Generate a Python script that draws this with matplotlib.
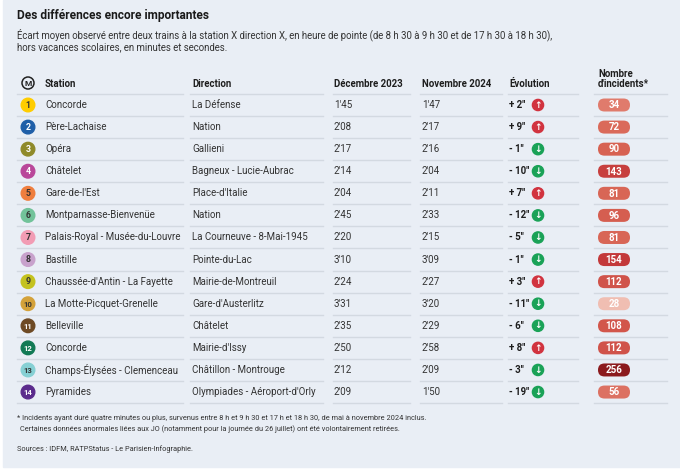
import matplotlib
matplotlib.use("Agg")
import matplotlib.pyplot as plt
from matplotlib.patches import Circle, FancyBboxPatch, Rectangle
import numpy as np

lines = [1, 2, 3, 4, 5, 6, 7, 8, 9, 10, 11, 12, 13, 14]
stations = ["Concorde", "Père-Lachaise", "Opéra", "Châtelet", "Gare-de-l'Est",
            "Montparnasse-Bienvenüe", "Palais-Royal - Musée-du-Louvre", "Bastille",
            "Chaussée-d'Antin - La Fayette", "La Motte-Picquet-Grenelle", "Belleville",
            "Concorde", "Champs-Élysées - Clemenceau", "Pyramides"]
directions = ["La Défense", "Nation", "Gallieni", "Bagneux - Lucie-Aubrac", "Place-d'Italie",
              "Nation", "La Courneuve - 8-Mai-1945", "Pointe-du-Lac", "Mairie-de-Montreuil",
              "Gare-d'Austerlitz", "Châtelet", "Mairie-d'Issy", "Châtillon - Montrouge",
              "Olympiades - Aéroport-d'Orly"]
# waiting time in seconds
dec_2023 = [105, 128, 137, 134, 124, 165, 140, 190, 144, 211, 155, 170, 132, 129]
nov_2024 = [107, 137, 136, 124, 131, 153, 135, 189, 147, 200, 149, 178, 129, 110]
incidents = [34, 72, 90, 143, 81, 96, 81, 154, 112, 28, 108, 112, 256, 56]

headers = ["Station", "Direction", "Décembre 2023", "Novembre 2024", "Évolution",
           "Nombre\nd'incidents*"]

line_colors = ["#ffcd00", "#1f5fa8", "#8f8a2a", "#b9479a", "#ef7e3e", "#72c39a", "#f29cb4",
               "#c8a2cc", "#c4c21e", "#d4a23a", "#6e4a24", "#127a55", "#86d0d4", "#5b2b8c"]
line_text = ["#333", "w", "w", "w", "#333", "#333", "#333", "#333", "#333", "#333",
             "w", "w", "#333", "w"]

BG = "#e9eef5"
SEP = "#d3d9e1"
TXT = "#333333"
plt.rcParams["font.family"] = ["Roboto", "DejaVu Sans"]


def fmt(sec):
    return f"{sec // 60}'{sec % 60:02d}"


def pill_color(v):
    anchors = [28, 34, 90, 150, 256]
    cols = np.array([[0xf0, 0xbe, 0xb2], [0xe0, 0x7b, 0x6c], [0xd7, 0x62, 0x52],
                     [0xc5, 0x3a, 0x3b], [0x8b, 0x1a, 0x1d]]) / 255
    return tuple(np.interp(v, anchors, cols[:, i]) for i in range(3))


fig = plt.figure(figsize=(6.8, 4.73), dpi=100, facecolor="white")
ax = fig.add_axes([0, 0, 1, 1])
ax.set_xlim(0, 680)
ax.set_ylim(473, 0)
ax.axis("off")
ax.add_patch(Rectangle((3, 0), 677, 467, color=BG, zorder=0))

ax.text(17, 16, "Des différences encore importantes", fontsize=8.6, fontweight="bold",
        color="#1a1a1a", va="center")
ax.text(17, 35, "Écart moyen observé entre deux trains à la station X direction X, en heure de pointe "
        "(de 8 h 30 à 9 h 30 et de 17 h 30 à 18 h 30),", fontsize=6.9, color=TXT, va="center")
ax.text(17, 47, "hors vacances scolaires, en minutes et secondes.", fontsize=6.9, color=TXT,
        va="center")

col_x = [45, 192, 334, 422, 509, 598]
seg = [(17, 183), (190, 323), (333, 410), (420, 502), (508, 578), (594, 667)]

# header
ax.add_patch(Circle((28, 83), 6, fill=False, ec="#222", lw=1.1))
ax.text(28, 83.3, "M", fontsize=6, fontweight="bold", ha="center", va="center", color="#222")
for x, h in zip(col_x, headers):
    ax.text(x, 84 if "\n" not in h else 79, h, fontsize=6.9, fontweight="bold", color="#1e1e1e",
            va="center", linespacing=1.0)

row_y0, row_dy = 105, 22.08
for a, b in seg:
    ax.plot([a, b], [94, 94], color=SEP, lw=1)

for i in range(len(lines)):
    y = row_y0 + i * row_dy
    ax.add_patch(Circle((28, y), 6.8, color=line_colors[i], zorder=2))
    ax.text(28, y + 0.3, str(lines[i]), fontsize=6.3 if lines[i] < 10 else 5.6, fontweight="bold",
            ha="center", va="center", color="white" if line_text[i] == "w" else "#333", zorder=3)
    ax.text(col_x[0], y, stations[i], fontsize=7, color=TXT, va="center")
    ax.text(col_x[1], y, directions[i], fontsize=7, color=TXT, va="center")
    ax.text(col_x[2], y, fmt(dec_2023[i]), fontsize=7, color=TXT, va="center")
    ax.text(col_x[3], y, fmt(nov_2024[i]), fontsize=7, color=TXT, va="center")
    d = nov_2024[i] - dec_2023[i]
    sign = "+" if d > 0 else "-"
    ax.text(col_x[4], y, f'{sign} {abs(d)}"', fontsize=7, fontweight="bold", color="#1e1e1e",
            va="center")
    icol = "#d1333f" if d > 0 else "#1aa257"
    ax.add_patch(Circle((538, y), 5.6, color=icol, zorder=2))
    ax.text(538, y + 0.2, "↑" if d > 0 else "↓", fontsize=6.5, fontweight="bold", color="white",
            ha="center", va="center", family="DejaVu Sans", zorder=3)
    ax.add_patch(FancyBboxPatch((598, y - 6.5), 32, 13, boxstyle="round,pad=0,rounding_size=6.5",
                                color=pill_color(incidents[i]), lw=0, zorder=2))
    ax.text(614, y + 0.3, str(incidents[i]), fontsize=7, fontweight="bold", color="white",
            ha="center", va="center", zorder=3)
    for a, b in seg:
        ax.plot([a, b], [y + 11, y + 11], color=SEP, lw=1)

ax.text(17, 418, "* Incidents ayant duré quatre minutes ou plus, survenus entre 8 h et 9 h 30 et 17 h "
        "et 18 h 30, de mai à novembre 2024 inclus.", fontsize=5.3, color=TXT, va="center")
ax.text(20, 429, "Certaines données anormales liées aux JO (notamment pour la journée du 26 juillet) "
        "ont été volontairement retirées.", fontsize=5.3, color=TXT, va="center")
ax.text(17, 449, "Sources : IDFM, RATPStatus - Le Parisien-Infographie.", fontsize=5.3, color=TXT,
        va="center")

fig.savefig("out.png", dpi=100, facecolor="white")
